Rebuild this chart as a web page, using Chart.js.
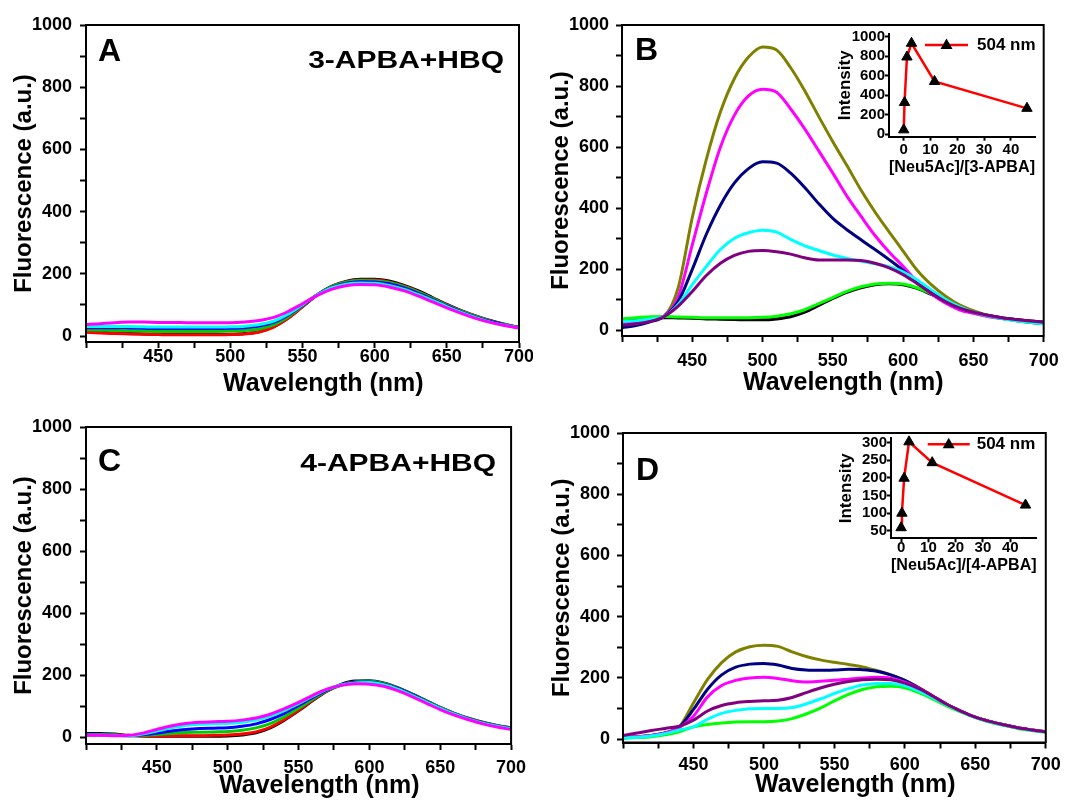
<!DOCTYPE html>
<html>
<head>
<meta charset="utf-8">
<script src="https://cdn.jsdelivr.net/npm/chart.js"></script>
<style>
  html, body { margin: 0; padding: 0; background: #fff; overflow: hidden; width: 1067px; height: 800px; }
  canvas { position: absolute; }
</style>
</head>
<body>
<canvas id="chartA"></canvas>
<canvas id="chartB"></canvas>
<canvas id="chartC"></canvas>
<canvas id="chartD"></canvas>
<canvas id="insetB"></canvas>
<canvas id="insetD"></canvas>
<script>
// -- Data --
const wavelengths = [400, 410, 420, 430, 440, 450, 460, 470, 480, 490, 500, 510, 520, 530, 540, 550,
  560, 570, 580, 590, 600, 610, 620, 630, 640, 650, 660, 670, 680, 690, 700]
const xTickValues = [400, 425, 450, 475, 500, 525, 550, 575, 600, 625, 650, 675, 700]
const yTickValues = [0, 100, 200, 300, 400, 500, 600, 700, 800, 900, 1000]

// panel A: 3-APBA + HBQ
const aMagenta = [37, 40, 43, 45, 45, 44, 44, 43, 43, 43, 43, 45, 50, 60, 79, 104, 130, 150, 162, 166, 165, 158, 146, 129, 110, 91, 73, 57, 44, 34, 26]
const aCyan = [31, 31, 31, 31, 30, 29, 29, 29, 29, 29, 30, 32, 37, 48, 70, 101, 132, 155, 167, 171, 170, 163, 151, 134, 115, 95, 76, 59, 45, 35, 27]
const aBlue = [27, 27, 27, 26, 25, 24, 24, 24, 24, 24, 25, 27, 32, 44, 67, 99, 132, 156, 170, 175, 174, 168, 156, 138, 118, 97, 78, 61, 47, 36, 27]
const aGreen = [20, 19, 18, 17, 16, 15, 15, 15, 15, 15, 16, 18, 23, 36, 62, 97, 132, 158, 173, 179, 178, 172, 160, 142, 121, 99, 80, 63, 48, 37, 28]
const aRed = [12, 10, 8, 7, 6, 5, 4, 4, 4, 4, 5, 7, 13, 29, 57, 94, 131, 158, 174, 180, 180, 174, 161, 143, 122, 100, 81, 64, 49, 37, 28]
const aBlack = [14, 12, 10, 8, 7, 6, 5, 5, 5, 5, 6, 8, 14, 30, 58, 95, 132, 160, 176, 183, 183, 177, 164, 146, 124, 102, 82, 65, 50, 38, 28]

// panel B: 3-APBA + HBQ + Neu5Ac
const bPurple = [18, 22, 30, 46, 80, 128, 180, 220, 246, 259, 262, 258, 250, 238, 231, 231, 231, 229, 220, 205, 183, 153, 123, 95, 74, 60, 50, 42, 36, 31, 27]
const bCyan = [29, 32, 38, 46, 85, 150, 210, 265, 302, 320, 328, 322, 298, 277, 262, 247, 236, 227, 218, 209, 192, 165, 133, 102, 78, 60, 48, 39, 32, 27, 22]
const bNavy = [9, 16, 28, 46, 95, 200, 315, 410, 483, 530, 552, 548, 515, 468, 415, 367, 330, 297, 265, 232, 197, 157, 123, 95, 74, 60, 50, 42, 36, 31, 27]
const bMagenta = [22, 26, 34, 47, 110, 280, 450, 600, 705, 768, 790, 780, 725, 660, 588, 515, 440, 374, 311, 257, 210, 160, 120, 90, 68, 56, 46, 39, 34, 30, 26]
const bOlive = [20, 26, 35, 48, 140, 370, 560, 715, 825, 895, 928, 918, 860, 785, 700, 618, 540, 460, 388, 323, 260, 197, 150, 113, 84, 65, 50, 42, 36, 31, 27]
const bGreen = [38, 42, 45, 46, 44, 43, 42, 42, 42, 42, 43, 47, 55, 68, 88, 108, 128, 143, 152, 155, 152, 140, 120, 100, 78, 60, 49, 40, 33, 27, 22]
const bBlack = [35, 38, 40, 42, 41, 40, 38, 37, 36, 35, 35, 38, 45, 60, 82, 105, 125, 140, 150, 153, 150, 138, 118, 98, 77, 59, 48, 40, 33, 27, 22]

// panel C: 4-APBA + HBQ
const cMagenta = [6, 6, 5, 6, 13, 25, 36, 44, 48, 50, 51, 55, 62, 74, 92, 112, 135, 155, 167, 172, 171, 164, 150, 131, 110, 89, 71, 56, 43, 33, 25]
const cCyan = [7, 7, 6, 5, 10, 20, 30, 38, 42, 43, 44, 48, 55, 68, 86, 108, 132, 154, 168, 175, 176, 169, 155, 135, 114, 93, 74, 58, 45, 35, 27]
const cBlue = [8, 7, 6, 5, 8, 13, 20, 25, 28, 29, 30, 35, 43, 57, 77, 102, 128, 152, 168, 177, 178, 171, 157, 137, 115, 94, 75, 59, 46, 36, 28]
const cGreen = [8, 8, 7, 5, 6, 9, 12, 15, 16, 17, 18, 22, 30, 44, 66, 93, 123, 150, 168, 178, 180, 173, 158, 138, 116, 95, 76, 60, 47, 37, 29]
const cRed = [8, 8, 7, 5, 4, 4, 4, 5, 5, 6, 7, 10, 17, 32, 57, 87, 120, 148, 168, 178, 179, 172, 158, 138, 116, 95, 76, 60, 47, 37, 29]
const cBlack = [12, 12, 10, 6, 4, 3, 3, 3, 3, 3, 4, 7, 14, 30, 55, 85, 118, 148, 170, 181, 182, 175, 160, 140, 118, 96, 77, 61, 48, 38, 30]

// panel D: 4-APBA + HBQ + Neu5Ac
const dPurple = [12, 20, 28, 35, 42, 62, 92, 110, 119, 123, 125, 127, 136, 152, 167, 179, 188, 194, 196, 194, 183, 165, 140, 113, 91, 72, 58, 47, 37, 30, 24]
const dCyan = [4, 6, 10, 18, 30, 40, 65, 84, 94, 99, 100, 100, 103, 115, 131, 149, 165, 177, 182, 182, 174, 157, 135, 111, 90, 71, 57, 46, 36, 29, 23]
const dNavy = [4, 7, 12, 20, 40, 97, 163, 210, 235, 245, 247, 242, 231, 226, 225, 226, 228, 227, 222, 210, 192, 168, 140, 113, 91, 72, 58, 47, 37, 30, 24]
const dMagenta = [5, 8, 12, 20, 38, 75, 138, 175, 192, 200, 202, 198, 191, 187, 189, 192, 196, 200, 202, 199, 186, 166, 140, 113, 91, 72, 58, 47, 37, 30, 24]
const dOlive = [6, 8, 12, 20, 40, 118, 195, 250, 285, 302, 307, 303, 285, 270, 259, 251, 244, 236, 224, 210, 192, 167, 139, 113, 91, 72, 58, 47, 37, 30, 24]
const dGreen = [3, 5, 8, 14, 24, 40, 48, 53, 56, 57, 57, 59, 67, 82, 101, 125, 146, 162, 171, 173, 168, 152, 131, 108, 88, 70, 56, 45, 35, 28, 22]

// insets: intensity at 504 nm vs [Neu5Ac]/[APBA]
const ratioB = [0, 0.3, 1.2, 2.9, 11.5, 46]
const intensityB = [45, 325, 790, 930, 540, 265]
const ratioD = [0, 0.3, 1.1, 2.9, 11.4, 45.6]
const intensityD = [59, 100, 199, 302, 243, 123]
const insetXTicks = [0, 10, 20, 30, 40]
const insetYTicksB = [0, 200, 400, 600, 800, 1000]
const insetYTicksD = [50, 100, 150, 200, 250, 300]

// -- Setup --
const family = '"Liberation Sans", Arial, sans-serif'
Chart.defaults.font.family = family
Chart.defaults.font.weight = 'bold'
Chart.defaults.color = '#000'

let toPoints = (xs, ys) => xs.map((x, i) => ({ x: x, y: ys[i] }))

let spectrum = function (values, color) {
  return {
    data: toPoints(wavelengths, values),
    borderColor: color,
    borderWidth: 3,
    pointRadius: 0,
    cubicInterpolationMode: 'monotone',
    fill: false
  }
}

let place = function (canvas, box) {
  canvas.width = box.w
  canvas.height = box.h
  canvas.style.left = box.left + 'px'
  canvas.style.top = box.top + 'px'
}

// box round the plot, panel letter and sample label
let frame = {
  id: 'frame',
  afterDraw(chart, args, o) {
    let a = chart.chartArea
    let ctx = chart.ctx
    ctx.save()
    ctx.strokeStyle = '#000'
    ctx.lineWidth = 2
    ctx.strokeRect(a.left, a.top, a.right - a.left, a.bottom - a.top)
    ctx.fillStyle = '#000'
    ctx.textBaseline = 'alphabetic'
    ctx.textAlign = 'left'
    ctx.font = 'bold 32px ' + family
    ctx.fillText(o.letter, a.left + o.letterDx, a.top + o.letterDy)
    if (o.note) {
      ctx.translate(a.right - 15, a.top + o.noteDy)
      ctx.scale(1.25, 1)
      ctx.textAlign = 'right'
      ctx.font = 'bold 24px ' + family
      ctx.fillText(o.note, 0, 0)
    }
    ctx.restore()
  }
}

// "504 nm" key of the insets
let insetKey = {
  id: 'insetKey',
  afterDraw(chart, args, o) {
    let a = chart.chartArea
    let ctx = chart.ctx
    let y = a.top + o.dy
    let x0 = a.right - o.lineFrom
    let x1 = a.right - o.lineTo
    let xm = (x0 + x1) / 2
    ctx.save()
    ctx.strokeStyle = '#ff0000'
    ctx.lineWidth = 2.5
    ctx.beginPath()
    ctx.moveTo(x0, y)
    ctx.lineTo(x1, y)
    ctx.stroke()
    ctx.fillStyle = '#000'
    ctx.beginPath()
    ctx.moveTo(xm, y - 6.5)
    ctx.lineTo(xm + 6, y + 4)
    ctx.lineTo(xm - 6, y + 4)
    ctx.closePath()
    ctx.fill()
    ctx.font = 'bold 17px ' + family
    ctx.textBaseline = 'middle'
    ctx.textAlign = 'left'
    ctx.fillText(o.text, a.right - o.textFrom, y)
    ctx.restore()
  }
}

let tickFont = { size: 18, weight: 'bold', family: family }
let xTitleFont = { size: 25, weight: 'bold', family: family }
let yTitleFont = { size: 24, weight: 'bold', family: family }

let makePanel = function (p) {
  let canvas = document.getElementById(p.id)
  place(canvas, p.box)
  return new Chart(canvas, {
    type: 'line',
    data: { datasets: p.datasets },
    options: {
      responsive: false,
      animation: false,
      devicePixelRatio: 1,
      layout: { padding: { top: p.padTop, right: p.padRight, left: 0, bottom: 0 } },
      plugins: {
        legend: { display: false },
        tooltip: { enabled: false },
        frame: { letter: p.letter, letterDx: p.letterDx, letterDy: p.letterDy, note: p.note, noteDy: p.noteDy }
      },
      scales: {
        x: {
          type: 'linear',
          min: 400,
          max: 700,
          afterBuildTicks: s => { s.ticks = xTickValues.map(v => ({ value: v })) },
          afterFit: s => { s.height = p.xHeight },
          grid: { drawOnChartArea: false, tickLength: 6, tickWidth: 2, tickColor: '#000' },
          border: { color: '#000', width: 2 },
          ticks: {
            autoSkip: false,
            maxRotation: 0,
            padding: p.xLabelPad,
            font: tickFont,
            color: '#000',
            callback: v => (v % 50 === 0 && v > 400) ? String(v) : ''
          },
          title: { display: true, text: p.xTitle, font: xTitleFont, color: '#000', padding: { top: 0, bottom: p.xTitlePad } }
        },
        y: {
          type: 'linear',
          min: p.yMin,
          max: 1000,
          afterBuildTicks: s => { s.ticks = yTickValues.map(v => ({ value: v })) },
          afterFit: s => { s.width = p.yWidth },
          grid: { drawOnChartArea: false, tickLength: 6, tickWidth: 2, tickColor: '#000' },
          border: { color: '#000', width: 2 },
          ticks: {
            autoSkip: false,
            padding: p.yLabelPad,
            font: tickFont,
            color: '#000',
            callback: v => (v % 200 === 0) ? String(v) : ''
          },
          title: { display: true, text: 'Fluorescence (a.u.)', font: yTitleFont, color: '#000', padding: { top: p.yTitlePad, bottom: 0 } }
        }
      }
    },
    plugins: [frame]
  })
}

let makeInset = function (p) {
  let canvas = document.getElementById(p.id)
  place(canvas, p.box)
  return new Chart(canvas, {
    type: 'line',
    data: {
      datasets: [{
        data: toPoints(p.ratios, p.values),
        borderColor: '#ff0000',
        borderWidth: 2.5,
        tension: 0,
        pointStyle: 'triangle',
        pointRadius: 6,
        pointBackgroundColor: '#000',
        pointBorderColor: '#000',
        pointBorderWidth: 1,
        clip: false
      }]
    },
    options: {
      responsive: false,
      animation: false,
      devicePixelRatio: 1,
      layout: { padding: { top: p.padTop, right: p.padRight, left: 0, bottom: 0 } },
      plugins: {
        legend: { display: false },
        tooltip: { enabled: false },
        insetKey: { text: '504 nm', dy: p.keyDy, lineFrom: p.keyLineFrom, lineTo: p.keyLineTo, textFrom: p.keyTextFrom }
      },
      scales: {
        x: {
          type: 'linear',
          min: p.xMin,
          max: p.xMax,
          afterBuildTicks: s => { s.ticks = insetXTicks.map(v => ({ value: v })) },
          afterFit: s => { s.height = p.xHeight },
          grid: { drawOnChartArea: false, tickLength: 4, tickWidth: 2, tickColor: '#000' },
          border: { color: '#000', width: 2 },
          ticks: {
            autoSkip: false, maxRotation: 0, padding: p.xLabelPad,
            font: { size: 15, weight: 'bold' }, color: '#000',
            callback: v => String(v)
          },
          title: { display: true, text: p.xTitle, font: { size: 17, weight: 'bold' }, color: '#000', padding: { top: 0, bottom: p.xTitlePad } }
        },
        y: {
          type: 'linear',
          min: p.yMin,
          max: p.yMax,
          afterBuildTicks: s => { s.ticks = p.yTicks.map(v => ({ value: v })) },
          afterFit: s => { s.width = p.yWidth },
          grid: { drawOnChartArea: false, tickLength: 4, tickWidth: 2, tickColor: '#000' },
          border: { color: '#000', width: 2 },
          ticks: {
            autoSkip: false, padding: 0,
            font: { size: 15, weight: 'bold' }, color: '#000',
            callback: v => String(v)
          },
          title: { display: true, text: 'Intensity', font: { size: 17, weight: 'bold' }, color: '#000', padding: { top: p.yTitlePad, bottom: 0 } }
        }
      }
    },
    plugins: [insetKey]
  })
}

// -- Charts --
makePanel({
  id: 'chartA', box: { left: 0, top: 0, w: 533, h: 400 },
  padTop: 25, padRight: 14, yWidth: 86, xHeight: 58, yMin: -19,
  xLabelPad: -2, xTitlePad: 1, yLabelPad: 8, yTitlePad: 10,
  xTitle: '      Wavelength (nm)',
  letter: 'A', letterDx: 12, letterDy: 36, note: '3-APBA+HBQ', noteDy: 43,
  datasets: [
    spectrum(aMagenta, '#ff00ff'),
    spectrum(aCyan, '#00ffff'),
    spectrum(aBlue, '#0000ff'),
    spectrum(aGreen, '#00cc00'),
    spectrum(aRed, '#ff0000'),
    spectrum(aBlack, '#000000')
  ]
})

makePanel({
  id: 'chartB', box: { left: 533, top: 0, w: 534, h: 400 },
  padTop: 25, padRight: 18.5, yWidth: 89, xHeight: 64, yMin: -18,
  xLabelPad: 8.3, xTitlePad: 1.5, yLabelPad: 7, yTitlePad: 14,
  xTitle: '   Wavelength (nm)',
  letter: 'B', letterDx: 13, letterDy: 35,
  datasets: [
    spectrum(bPurple, '#800080'),
    spectrum(bCyan, '#00ffff'),
    spectrum(bNavy, '#000080'),
    spectrum(bMagenta, '#ff00ff'),
    spectrum(bOlive, '#808000'),
    spectrum(bGreen, '#00ff00'),
    spectrum(bBlack, '#000000')
  ]
})

makePanel({
  id: 'chartC', box: { left: 0, top: 400, w: 533, h: 410 },
  padTop: 27, padRight: 14, yWidth: 86, xHeight: 66, yMin: -22,
  xLabelPad: 6.9, xTitlePad: 9, yLabelPad: 8, yTitlePad: 10,
  xTitle: '      Wavelength (nm)',
  letter: 'C', letterDx: 12, letterDy: 44, note: '4-APBA+HBQ', noteDy: 44,
  datasets: [
    spectrum(cMagenta, '#ff00ff'),
    spectrum(cCyan, '#00ffff'),
    spectrum(cBlue, '#0000ff'),
    spectrum(cGreen, '#00cc00'),
    spectrum(cRed, '#ff0000'),
    spectrum(cBlack, '#000000')
  ]
})

makePanel({
  id: 'chartD', box: { left: 533, top: 400, w: 534, h: 410 },
  padTop: 33, padRight: 18.5, yWidth: 90, xHeight: 67.5, yMin: -11,
  xLabelPad: 6.2, xTitlePad: 9.7, yLabelPad: 7, yTitlePad: 15,
  xTitle: '      Wavelength (nm)',
  letter: 'D', letterDx: 13, letterDy: 47,
  datasets: [
    spectrum(dPurple, '#800080'),
    spectrum(dCyan, '#00ffff'),
    spectrum(dGreen, '#00ff00'),
    spectrum(dMagenta, '#ff00ff'),
    spectrum(dNavy, '#000080'),
    spectrum(dOlive, '#808000')
  ]
})

makeInset({
  id: 'insetB', box: { left: 830, top: 25, w: 215, h: 160 },
  padTop: 8.3, padRight: 10, yWidth: 59, xHeight: 48.3,
  xMin: -5.5, xMax: 49, yMin: -25, yMax: 1025, yTicks: insetYTicksB,
  xLabelPad: 0.3, xTitlePad: 7.8, yTitlePad: 4.8,
  xTitle: '[Neu5Ac]/[3-APBA]',
  ratios: ratioB, values: intensityB,
  keyDy: 11, keyLineFrom: 110, keyLineTo: 67, keyTextFrom: 58
})

makeInset({
  id: 'insetD', box: { left: 830, top: 425, w: 215, h: 165 },
  padTop: 13.3, padRight: 8.3, yWidth: 61, xHeight: 51.7,
  xMin: -3.7, xMax: 49.7, yMin: 29, yMax: 312, yTicks: insetYTicksD,
  xLabelPad: -3, xTitlePad: 14.8, yTitlePad: 5.8,
  xTitle: '[Neu5Ac]/[4-APBA]',
  ratios: ratioD, values: intensityD,
  keyDy: 6, keyLineFrom: 109, keyLineTo: 67, keyTextFrom: 60
})
</script>
</body>
</html>
